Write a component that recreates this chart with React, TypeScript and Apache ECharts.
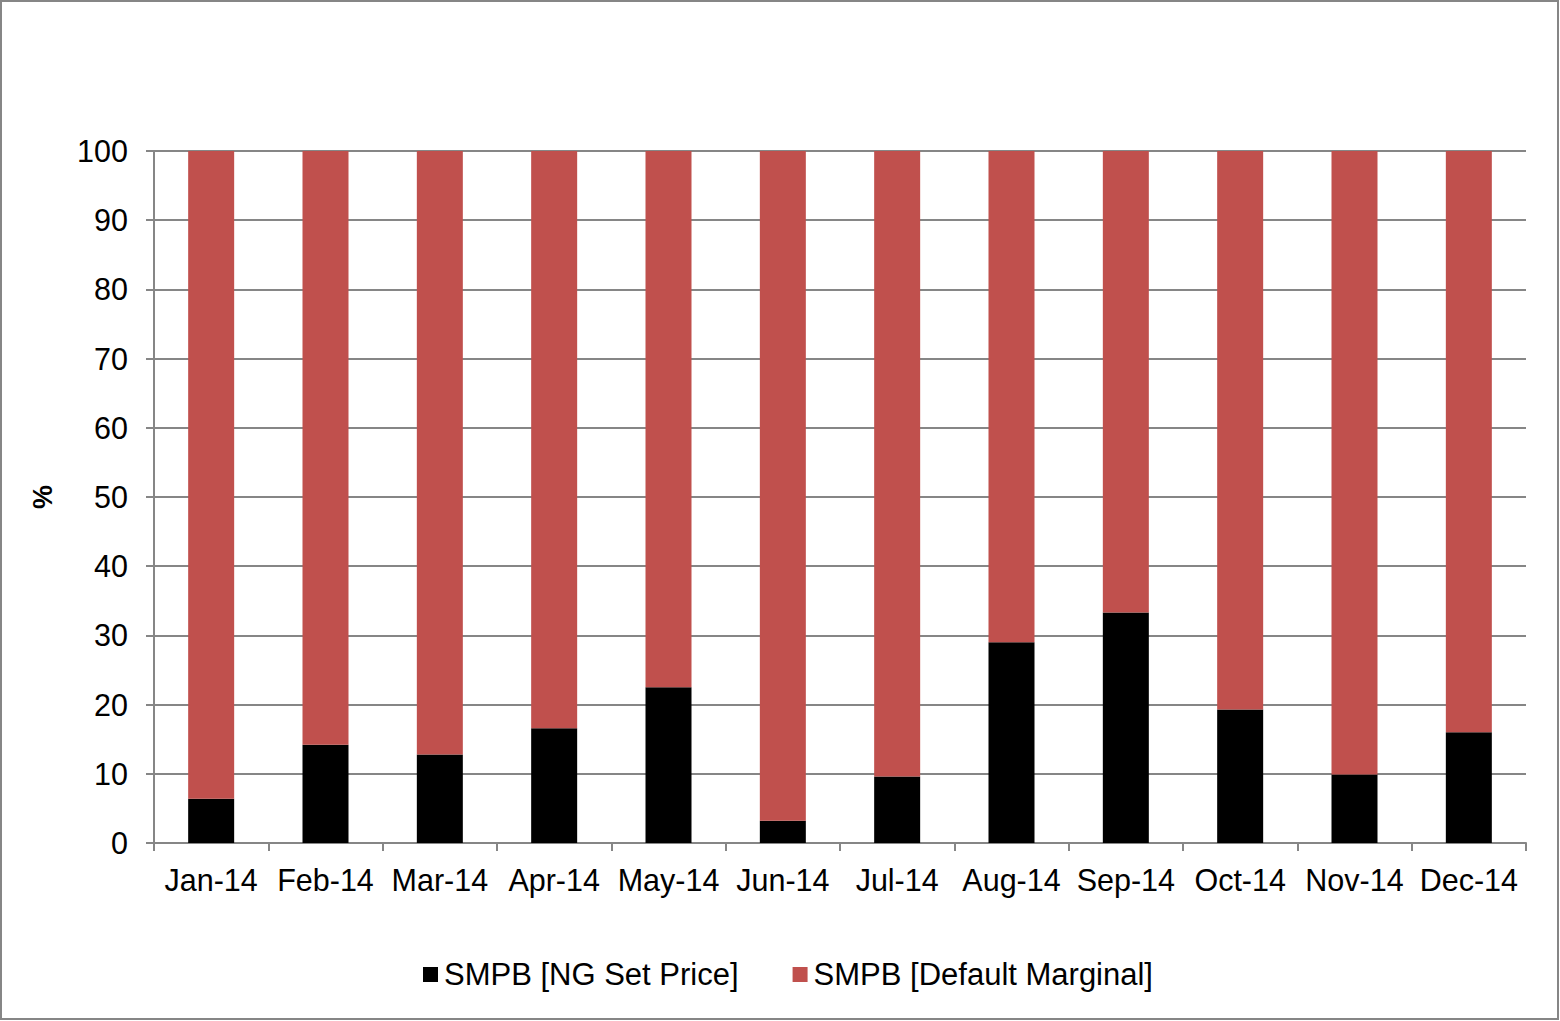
import React, { useEffect, useRef } from "react";
import * as echarts from "echarts";

const categories = ["Jan-14", "Feb-14", "Mar-14", "Apr-14", "May-14", "Jun-14", "Jul-14", "Aug-14", "Sep-14", "Oct-14", "Nov-14", "Dec-14"];
const ngSetPrice = [6.4, 14.2, 12.8, 16.6, 22.5, 3.2, 9.6, 29.0, 33.3, 19.3, 9.9, 16.0];
const defaultMarginal = [93.6, 85.8, 87.2, 83.4, 77.5, 96.8, 90.4, 71.0, 66.7, 80.7, 90.1, 84.0];
const yTicks = { min: 0, max: 100, interval: 10 };

const FONT = "'Liberation Sans', Arial, sans-serif";
const GRAY = "#868686";

export default function App() {
  const ref = useRef<HTMLDivElement>(null);
  useEffect(() => {
    if (!ref.current) return;
    const chart = echarts.init(ref.current, undefined, { renderer: "svg" });
    chart.setOption({
      animation: false,
      backgroundColor: "#ffffff",
      textStyle: { fontFamily: FONT },
      graphic: [
        {
          type: "rect",
          shape: { x: 1, y: 1, width: 1557, height: 1018 },
          style: { fill: "none", stroke: GRAY, lineWidth: 2 },
          silent: true,
        },
      ],
      grid: { left: 154, right: 34, top: 151, bottom: 178, containLabel: false },
      legend: {
        bottom: 26,
        left: 418,
        itemWidth: 15,
        itemHeight: 15,
        itemGap: 54,
        icon: "rect",
        textStyle: { fontFamily: FONT, fontSize: 31, color: "#000", padding: [0, 0, 0, 1] },
        data: ["SMPB [NG Set Price]", "SMPB [Default Marginal]"],
      },
      xAxis: {
        type: "category",
        data: categories,
        boundaryGap: true,
        axisLine: { lineStyle: { color: GRAY, width: 2 } },
        axisTick: { show: true, length: 8, alignWithLabel: false, lineStyle: { color: GRAY, width: 2 } },
        axisLabel: { color: "#000", fontSize: 30.5, fontFamily: FONT, margin: 21, interval: 0 },
        splitLine: { show: false },
      },
      yAxis: {
        type: "value",
        min: yTicks.min,
        max: yTicks.max,
        interval: yTicks.interval,
        name: "%",
        nameLocation: "middle",
        nameRotate: 90,
        nameGap: 98,
        nameTextStyle: { fontFamily: FONT, fontSize: 27, fontWeight: "bold", color: "#000" },
        axisLine: { show: true, lineStyle: { color: GRAY, width: 2 } },
        axisTick: { show: true, length: 8, lineStyle: { color: GRAY, width: 2 } },
        axisLabel: { color: "#000", fontSize: 30.5, fontFamily: FONT, margin: 26 },
        splitLine: { show: true, lineStyle: { color: GRAY, width: 2 } },
      },
      series: [
        {
          name: "SMPB [NG Set Price]",
          type: "bar",
          stack: "total",
          data: ngSetPrice,
          barWidth: 46,
          itemStyle: { color: "#000000" },
        },
        {
          name: "SMPB [Default Marginal]",
          type: "bar",
          stack: "total",
          data: defaultMarginal,
          barWidth: 46,
          itemStyle: { color: "#C0504D" },
        },
      ],
    });
    return () => chart.dispose();
  }, []);
  return (
    <div
      ref={ref}
      style={{ position: "absolute", left: 0, top: 0, width: 1560, height: 1021 }}
    />
  );
}
